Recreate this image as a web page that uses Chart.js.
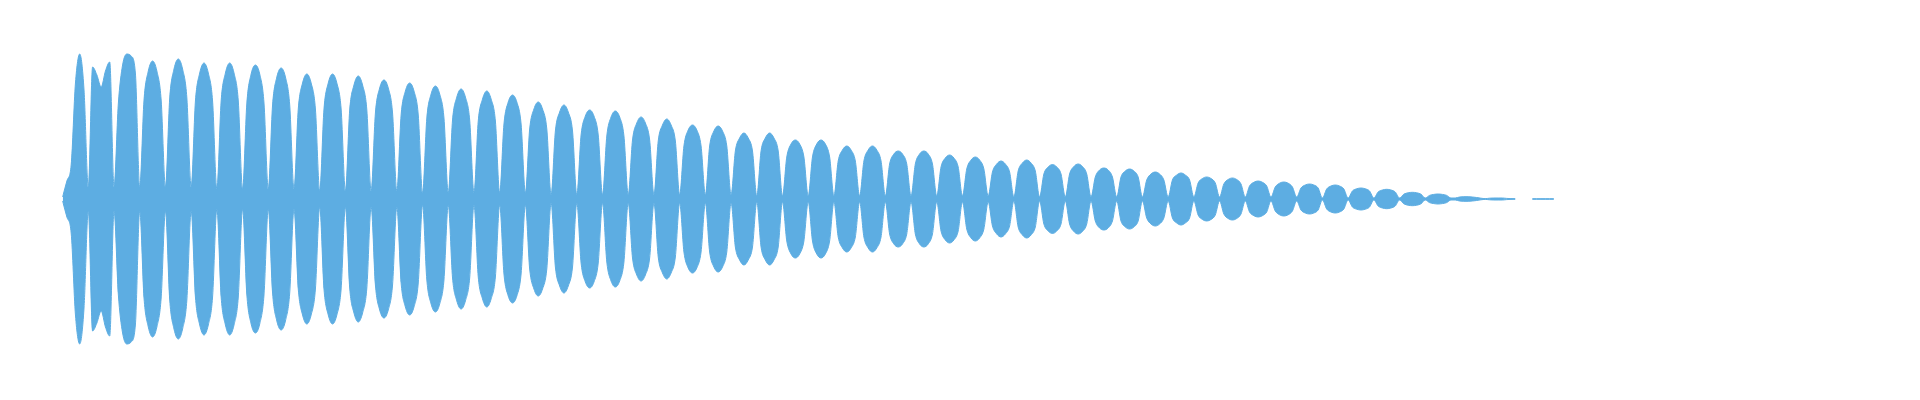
<!DOCTYPE html>
<html>
<head>
<meta charset="utf-8">
<title>Waveform</title>
<script src="https://cdn.jsdelivr.net/npm/chart.js@4.4.1/dist/chart.umd.min.js"></script>
<style>
    html, body { margin: 0; padding: 0; background: #ffffff; }
    #wrap { width: 1920px; height: 400px; position: relative; }
</style>
</head>
<body>
<div id="wrap"><canvas id="waveChart"></canvas></div>
<script>
// Envelope amplitude read off the picture. Every beat lobe is sampled six times:
// waist, edge, shoulder, crest, shoulder, edge.
// The attack (lead-in spike, first lobe, split lobe, lobe 1) is irregular, so it is listed sample by sample.
const onset = [2, 18, 34, 116, 145, 109,
    12, 132, 124, 112, 128, 137,
    12, 95, 134, 145, 143, 125];

// lobes 2 .. 52
const waist = [12, 12, 12, 10, 10, 10, 10, 8, 8, 8, 8, 6, 6, 6, 6, 6,
    4, 4, 4, 4, 4, 4, 4, 4, 3, 3, 3, 3, 3, 3, 3, 3, 3, 3,
    2, 2, 2, 2, 2, 2, 2, 2, 2, 2, 2, 2, 1, 1, 1, 1, 1];
const edge = [99, 101, 98, 98, 96, 94, 90, 90, 89, 86, 84, 81, 79, 78, 75, 70, 68,
    64, 63, 59, 58, 53, 53, 48, 48, 42, 42, 38, 38, 35, 35, 32, 30, 27,
    28, 25, 25, 22, 22, 19, 19, 16, 15, 13, 12, 11, 10, 8, 7, 4.8, 3.6];
const shoulder = [128, 130, 126, 126, 125, 122, 116, 116, 114, 111, 108, 105, 102, 100, 97, 90, 87,
    83, 82, 76, 74, 69, 68, 61, 61, 55, 55, 49, 49, 45, 45, 41, 39, 35,
    36, 32, 32.5, 29, 28, 25, 24, 20.5, 19.5, 16.7, 15.8, 14, 13, 10.2, 9, 6.2, 4.6];
const crest = [138, 140, 136, 136, 134, 131, 125, 125, 123, 119, 116, 113, 110, 108, 104, 97, 94,
    89, 88, 82, 80, 74, 73, 66, 66, 59, 59, 53, 53, 48, 48, 44, 42, 38,
    39, 34.5, 35, 31, 30, 27, 26, 22, 21, 18, 17, 15, 14, 11, 9.7, 6.7, 5];

// decay: flattened last lobe, faint ripple, silence, then the residual flat line
const tail = [1, 1, 2, 2.3, 2.3, 2, 1.5, 0.8, 0.4,
    0.8, 1, 1, 1, 0.6, 0.4, 0.3,
    null, null, null,
    0.3, 0.3, 0.3, 0.3, 0.3, 0.3];

const WAVE_COLOR = '#5DADE2';

document.addEventListener('DOMContentLoaded', () => {
    // build the upper envelope from the tables
    const envelope = onset.slice();
    waist.forEach((w, k) => {
        envelope.push(w, edge[k], shoulder[k], crest[k], shoulder[k], edge[k]);
    });
    tail.forEach(v => envelope.push(v));

    const lower = envelope.map(v => (v === null ? null : -v));
    const labels = envelope.map((_, i) => i);

    const ctx = document.getElementById('waveChart').getContext('2d');
    new Chart(ctx, {
        type: 'line',
        data: {
            labels: labels,
            datasets: [
                {
                    data: envelope,
                    borderColor: WAVE_COLOR,
                    backgroundColor: WAVE_COLOR,
                    borderWidth: 1,
                    pointRadius: 0,
                    cubicInterpolationMode: 'monotone',
                    spanGaps: false,
                    fill: '+1'
                },
                {
                    data: lower,
                    borderColor: WAVE_COLOR,
                    backgroundColor: WAVE_COLOR,
                    borderWidth: 1,
                    pointRadius: 0,
                    cubicInterpolationMode: 'monotone',
                    spanGaps: false,
                    fill: false
                }
            ]
        },
        options: {
            responsive: true,
            maintainAspectRatio: false,
            animation: false,
            layout: { padding: { left: 62.6, right: 366.2, top: 0, bottom: 0 } },
            plugins: {
                legend: { display: false },
                tooltip: { enabled: false }
            },
            scales: {
                x: { type: 'category', display: false, offset: false },
                y: { display: false, min: -201, max: 199 }
            }
        }
    });
});
</script>
</body>
</html>
